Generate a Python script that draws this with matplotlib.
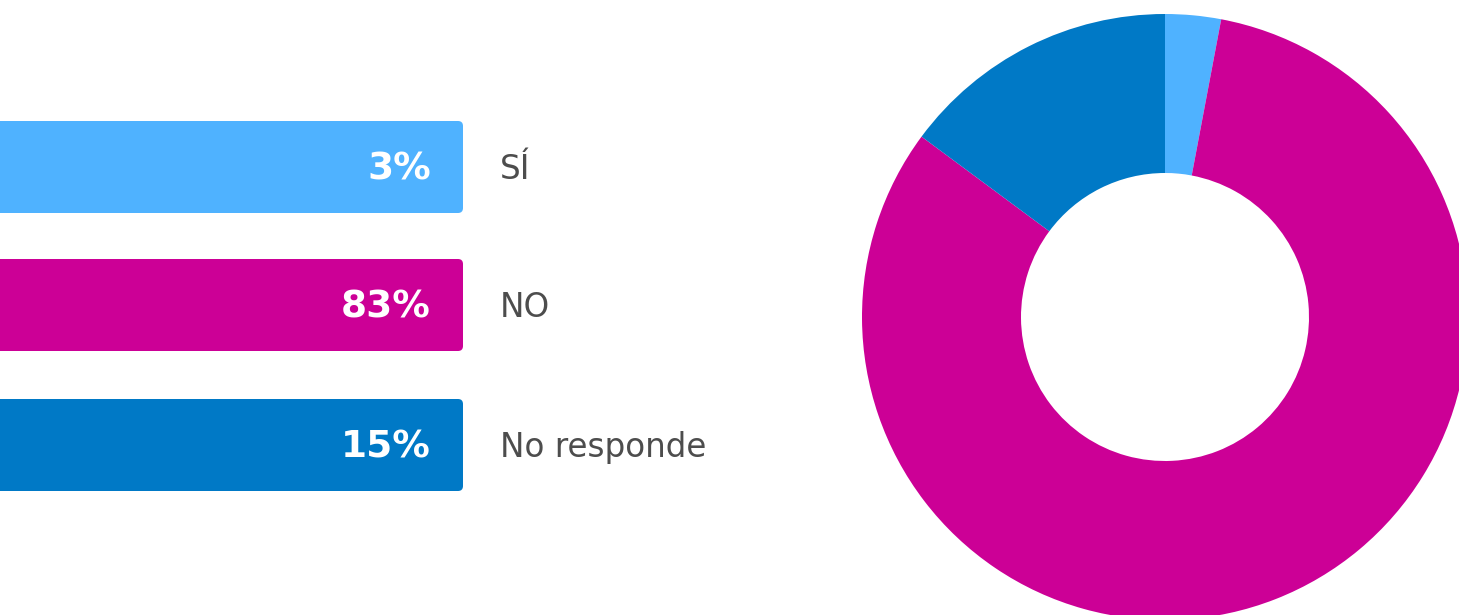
import matplotlib
matplotlib.use("Agg")
import matplotlib.pyplot as plt
from matplotlib.patches import FancyBboxPatch

categories = ["SÍ", "NO", "No responde"]
values = [3, 83, 15]
value_labels = ["3%", "83%", "15%"]
colors = ["#4FB2FF", "#CC0096", "#0079C6"]

W, H = 1459, 615
fig = plt.figure(figsize=(W / 100, H / 100), dpi=100)
ax = fig.add_axes([0, 0, 1, 1])
ax.set_xlim(0, W)
ax.set_ylim(0, H)
ax.set_aspect("equal")
ax.axis("off")

# bars on the left (all the same length, in pixel units)
bar_right = 463
bar_h = 92
centers = [167, 305, 445]
for cat, lab, col, yc in zip(categories, value_labels, colors, centers):
    y = H - yc
    box = FancyBboxPatch((-18, y - bar_h / 2), bar_right + 18, bar_h,
                         boxstyle="round,pad=0,rounding_size=5",
                         fc=col, ec="none")
    ax.add_patch(box)
    ax.text(431, y - 13, lab, ha="right", va="baseline", color="white",
            fontsize=27, fontweight="bold", family="DejaVu Sans")
    ax.text(500, y - 12, cat, ha="left", va="baseline", color="#4D4D4D",
            fontsize=23.5, family="DejaVu Sans")

# donut on the right
ax.pie(values, colors=colors, startangle=90, counterclock=False,
       center=(1165, H - 317), radius=303,
       wedgeprops=dict(width=159, edgecolor="none"))
ax.set_xlim(0, W)
ax.set_ylim(0, H)

fig.savefig("out.png", dpi=100)
